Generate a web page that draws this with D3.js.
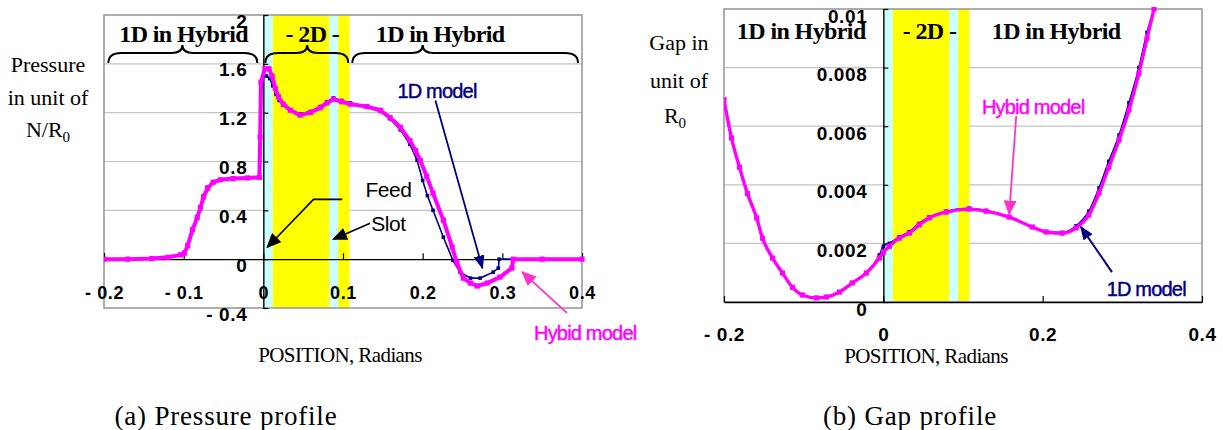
<!DOCTYPE html>
<html>
<head>
<meta charset="utf-8">
<script src="https://cdn.jsdelivr.net/npm/d3@7"></script>
<style>
body { margin: 0; background: #fff; }
svg text { font-family: "Liberation Sans", Arial, sans-serif; }
svg .serif { font-family: "Liberation Serif", "Times New Roman", serif; }
</style>
</head>
<body>
<script>
// pressure profile, hybrid model (x in radians, p in N/R0)
var pressHybX = [-0.2, -0.17, -0.14, -0.12, -0.104, -0.099, -0.095, -0.089, -0.083, -0.079, -0.075, -0.07, -0.063, -0.054, -0.038, -0.02, -0.005, -0.004, -0.003, 0.002, 0.007, 0.011, 0.015, 0.019, 0.025, 0.034, 0.046, 0.059, 0.0715, 0.08, 0.088, 0.098, 0.109, 0.13, 0.147, 0.159, 0.172, 0.184, 0.191, 0.197, 0.205, 0.213, 0.226, 0.237, 0.243, 0.251, 0.26, 0.2685, 0.281, 0.297, 0.312, 0.3137, 0.35, 0.4];
var pressHybY = [0, 0, 0.005, 0.015, 0.035, 0.05, 0.11, 0.24, 0.34, 0.42, 0.51, 0.58, 0.63, 0.65, 0.66, 0.665, 0.67, 1.0, 1.45, 1.56, 1.56, 1.5, 1.4, 1.33, 1.27, 1.22, 1.18, 1.2, 1.24, 1.28, 1.31, 1.29, 1.27, 1.25, 1.22, 1.16, 1.08, 0.97, 0.89, 0.81, 0.68, 0.54, 0.32, 0.1, -0.03, -0.155, -0.196, -0.22, -0.196, -0.147, -0.073, 0, 0, 0];
// pressure profile, 1D model
var press1dX = [-0.2, -0.17, -0.14, -0.12, -0.104, -0.099, -0.095, -0.089, -0.083, -0.079, -0.075, -0.07, -0.063, -0.054, -0.038, -0.02, -0.004, -0.002, 0.001, 0.004, 0.008, 0.012, 0.016, 0.02, 0.025, 0.034, 0.046, 0.059, 0.0715, 0.08, 0.088, 0.098, 0.109, 0.13, 0.147, 0.159, 0.172, 0.184, 0.193, 0.2, 0.206, 0.213, 0.226, 0.238, 0.247, 0.26, 0.272, 0.2886, 0.295, 0.296, 0.35, 0.4];
var press1dY = [0, 0, 0.005, 0.015, 0.035, 0.055, 0.12, 0.25, 0.35, 0.43, 0.52, 0.59, 0.63, 0.65, 0.66, 0.665, 0.67, 1.45, 1.5, 1.5, 1.48, 1.42, 1.35, 1.3, 1.26, 1.22, 1.19, 1.21, 1.25, 1.29, 1.32, 1.3, 1.28, 1.25, 1.21, 1.15, 1.06, 0.94, 0.81, 0.645, 0.52, 0.4, 0.18, -0.01, -0.106, -0.155, -0.155, -0.106, -0.073, 0, 0, 0];

// gap profile (x in radians, gap in R0)
var gapX = [-0.2, -0.1906, -0.1806, -0.1705, -0.159, -0.1517, -0.139, -0.1266, -0.114, -0.1016, -0.084, -0.0715, -0.055, -0.0389, -0.0213, -0.005, 0, 0.0075, 0.02, 0.0326, 0.045, 0.0577, 0.079, 0.1078, 0.129, 0.158, 0.187, 0.2044, 0.2245, 0.242, 0.258, 0.2708, 0.283, 0.2959, 0.3083, 0.3208, 0.331, 0.3398];
var gapHyb = [0.0069, 0.0056, 0.0046, 0.0037, 0.00287, 0.00218, 0.0015, 0.00099, 0.0005, 0.00024, 0.00014, 0.00017, 0.00034, 0.00065, 0.00099, 0.0015, 0.0017, 0.0019, 0.00218, 0.00235, 0.00263, 0.00287, 0.00307, 0.00317, 0.0031, 0.0029, 0.00256, 0.00239, 0.00235, 0.00253, 0.00297, 0.00372, 0.0046, 0.00553, 0.00655, 0.0078, 0.009, 0.01];
var gap1d = [0.0069, 0.0056, 0.0046, 0.0037, 0.00288, 0.0022, 0.0015, 0.001, 0.0005, 0.00024, 0.00014, 0.00017, 0.00034, 0.00066, 0.001, 0.0016, 0.0019, 0.002, 0.00222, 0.0024, 0.00268, 0.0029, 0.0031, 0.0032, 0.00312, 0.0029, 0.00256, 0.0024, 0.00237, 0.0026, 0.0031, 0.0039, 0.0048, 0.0057, 0.0068, 0.008, 0.0092, 0.01];

// 2D zone: feed slot strips and 2D strips
var bandStart = [0, 0.012, 0.083, 0.094];
var bandEnd = [0.012, 0.083, 0.094, 0.108];
var bandKind = ["slot", "2d", "slot", "2d"];

// region labels over the plots
var regionText = ["1D in Hybrid", "- 2D -", "1D in Hybrid"];
var regionCenterP = [-0.1, 0.0615, 0.222];
var regionCenterG = [-0.103, 0.058, 0.217];
var braceFrom = [-0.1945, 0.0025, 0.1117];
var braceTo = [-0.0075, 0.1066, 0.395];
var braceTip = [-0.1016, 0.055, 0.2];

// ticks
var pXTicks = [-0.2, -0.1, 0, 0.1, 0.2, 0.3, 0.4];
var pYTicks = [-0.4, 0, 0.4, 0.8, 1.2, 1.6, 2];
var gXTicks = [-0.2, 0, 0.2, 0.4];
var gYTicks = [0, 0.002, 0.004, 0.006, 0.008, 0.01];

var w = 1223, h = 430;
var svg = d3.select("body").append("svg")
	.attr("width", w)
	.attr("height", h);
var defs = svg.append("defs");

function arrowHead(id, color, len, wid) {
	defs.append("marker")
		.attr("id", id)
		.attr("viewBox", "0 0 10 10")
		.attr("preserveAspectRatio", "none")
		.attr("refX", 9).attr("refY", 5)
		.attr("markerUnits", "userSpaceOnUse")
		.attr("markerWidth", len).attr("markerHeight", wid)
		.attr("orient", "auto")
		.append("path")
		.attr("d", "M0,0L10,5L0,10z")
		.attr("fill", color);
}
arrowHead("ahBlack", "#000", 15, 13);
arrowHead("ahNavy", "#000080", 14, 11);
arrowHead("ahPink", "#ff33cc", 15, 13);

var bandFill = { slot: "#ccffff", "2d": "#ffff00" };
function fmt(d) { return d < 0 ? "- " + Math.abs(d) : String(d); }

function bracePath(x1, x2, xm, y) {
	return "M" + x1 + "," + (y + 10) + " Q" + x1 + "," + y + " " + (x1 + 13) + "," + y +
		" L" + (xm - 11) + "," + y + " Q" + xm + "," + y + " " + xm + "," + (y - 8) +
		" Q" + xm + "," + y + " " + (xm + 11) + "," + y +
		" L" + (x2 - 13) + "," + y + " Q" + x2 + "," + y + " " + x2 + "," + (y + 10);
}

function pts(xs, ys) { return xs.map(function (x, i) { return [x, ys[i]]; }); }

// draws one panel: grid, bands, frame, axes, two series
function drawPanel(g, x, y, opt) {
	var x0 = x.range()[0], x1 = x.range()[1];
	var yTop = y.range()[1], yBot = y.range()[0];

	g.append("g").selectAll("line")
		.data(opt.yTicks.filter(function (d) { return d > y.domain()[0] && d !== 0 && d < y.domain()[1]; }))
		.enter().append("line")
		.attr("x1", x0).attr("x2", x1)
		.attr("y1", function (d) { return y(d); })
		.attr("y2", function (d) { return y(d); })
		.attr("stroke", "#c4c4c4").attr("stroke-width", 1.2);

	g.append("g").selectAll("rect")
		.data(bandStart)
		.enter().append("rect")
		.attr("x", function (d) { return x(d); })
		.attr("width", function (d, i) { return x(bandEnd[i]) - x(d); })
		.attr("y", yTop).attr("height", yBot - yTop)
		.attr("fill", function (d, i) { return bandFill[bandKind[i]]; });

	g.append("rect")
		.attr("x", x0).attr("y", yTop)
		.attr("width", x1 - x0).attr("height", yBot - yTop)
		.attr("fill", "none").attr("stroke", "#9a9a9a").attr("stroke-width", 1.6);

	var xAxis = d3.axisBottom(x).tickValues(opt.xTicks)
		.tickSizeInner(-6).tickSizeOuter(0).tickFormat(fmt);
	var gx = g.append("g")
		.attr("transform", "translate(0," + y(0) + ")")
		.call(xAxis);
	gx.select(".domain").attr("stroke", "#000").attr("stroke-width", 1.4);
	gx.selectAll("line").attr("stroke", "#000").attr("stroke-width", 1.2);
	gx.selectAll("text")
		.attr("y", opt.xLabelY).attr("dy", "0.71em")
		.attr("font-size", opt.xFont).attr("font-weight", "bold")
		.attr("letter-spacing", 0.6).attr("fill", "#000")
		.attr("font-family", "Liberation Sans, Arial, sans-serif");

	var yAxis = d3.axisRight(y).tickValues(opt.yTicks)
		.tickSizeInner(5).tickSizeOuter(0).tickFormat(fmt);
	var gy = g.append("g")
		.attr("transform", "translate(" + x(0) + ",0)")
		.call(yAxis);
	gy.select(".domain").attr("stroke", "#000").attr("stroke-width", 1.4);
	gy.selectAll("line").attr("stroke", "#000").attr("stroke-width", 1.2);
	gy.selectAll("text")
		.attr("x", -16).attr("y", opt.yLabelDy)
		.attr("text-anchor", "end")
		.attr("font-size", opt.yFont).attr("font-weight", "bold")
		.attr("letter-spacing", 0.6).attr("fill", "#000")
		.attr("font-family", "Liberation Sans, Arial, sans-serif");

	// series
	defs.append("clipPath").attr("id", opt.id + "clip")
		.append("rect").attr("x", x0).attr("y", yTop - 2)
		.attr("width", x1 - x0 + 4).attr("height", yBot - yTop + 4);
	var plot = g.append("g").attr("clip-path", "url(#" + opt.id + "clip)");
	var line = d3.line()
		.x(function (d) { return x(d[0]); })
		.y(function (d) { return y(d[1]); })
		.curve(opt.curve);

	plot.append("path").datum(opt.oneD)
		.attr("d", line).attr("fill", "none")
		.attr("stroke", "#000080").attr("stroke-width", 1.6);
	plot.selectAll(".m1").data(opt.oneD).enter().append("rect")
		.attr("x", function (d) { return x(d[0]) - 1.8; })
		.attr("y", function (d) { return y(d[1]) - 1.8; })
		.attr("width", 3.6).attr("height", 3.6)
		.attr("fill", "#000080");

	plot.append("path").datum(opt.hyb)
		.attr("d", line).attr("fill", "none")
		.attr("stroke", "#ff00ff").attr("stroke-width", opt.hybWidth)
		.attr("stroke-linejoin", "round");
	plot.selectAll(".m2").data(opt.hyb).enter().append("rect")
		.attr("x", function (d) { return x(d[0]) - 2.6; })
		.attr("y", function (d) { return y(d[1]) - 2.6; })
		.attr("width", 5.2).attr("height", 5.2)
		.attr("fill", "#ff00ff");
}

function arrow(g, x1, y1, x2, y2, color, mk, sw) {
	g.append("line")
		.attr("x1", x1).attr("y1", y1).attr("x2", x2).attr("y2", y2)
		.attr("stroke", color).attr("stroke-width", sw)
		.attr("marker-end", "url(#" + mk + ")");
}

function label(g, x, y, txt, size, color, cls, weight) {
	return g.append("text")
		.attr("x", x).attr("y", y)
		.attr("text-anchor", "middle")
		.attr("class", cls || null)
		.attr("font-size", size)
		.attr("font-weight", weight || "normal")
		.attr("fill", color)
		.text(txt);
}

// model callouts, drawn a little heavier like the source figure
function callout(g, x, y, txt, color) {
	return label(g, x, y, txt, 20, color, null, "normal")
		.attr("letter-spacing", -0.8)
		.attr("stroke", color).attr("stroke-width", 0.45);
}

// ---------- (a) pressure profile ----------
var xP = d3.scaleLinear().domain([-0.2, 0.4]).range([104, 582]);
var yP = d3.scaleLinear().domain([-0.4, 2]).range([308, 15]);
var gA = svg.append("g");
drawPanel(gA, xP, yP, {
	id: "p", xTicks: pXTicks, yTicks: pYTicks,
	xLabelY: 27, yLabelDy: 6, xFont: 18, yFont: 19,
	curve: d3.curveLinear, hybWidth: 4,
	hyb: pts(pressHybX, pressHybY), oneD: pts(press1dX, press1dY)
});

regionText.forEach(function (t, i) {
	label(gA, xP(regionCenterP[i]), 42, t, 24, "#000", "serif", "bold")
		.attr("letter-spacing", -0.6);
	gA.append("path")
		.attr("d", bracePath(xP(braceFrom[i]), xP(braceTo[i]), xP(braceTip[i]), 53))
		.attr("fill", "none").attr("stroke", "#000").attr("stroke-width", 2);
});

callout(gA, xP(0.218), yP(1.32), "1D model", "#000080");
arrow(gA, xP(0.216), yP(1.3), xP(0.275), yP(-0.073), "#000080", "ahNavy", 1.8);

callout(gA, xP(0.404), yP(-0.66), "Hybid model", "#ff00ff");
arrow(gA, xP(0.381), yP(-0.44), xP(0.325), yP(-0.106), "#ff33cc", "ahPink", 1.8);

label(gA, xP(0.157), yP(0.506), "Feed", 21, "#000", null, "normal").attr("letter-spacing", -0.5);
label(gA, xP(0.157), yP(0.229), "Slot", 21, "#000", null, "normal").attr("letter-spacing", -0.5);
gA.append("polyline")
	.attr("points", [[xP(0.099), yP(0.49)], [xP(0.063), yP(0.49)], [xP(0.005), yP(0.098)]].join(" "))
	.attr("fill", "none").attr("stroke", "#000").attr("stroke-width", 1.6)
	.attr("marker-end", "url(#ahBlack)");
arrow(gA, xP(0.134), yP(0.294), xP(0.088), yP(0.163), "#000", "ahBlack", 1.6);

var tA = gA.append("text").attr("class", "serif").attr("font-size", 22)
	.attr("text-anchor", "middle").attr("fill", "#000");
tA.append("tspan").attr("x", 48).attr("y", 72).text("Pressure");
tA.append("tspan").attr("x", 48).attr("y", 105).text("in unit of");
tA.append("tspan").attr("x", 48).attr("y", 137).text("N/R");
tA.append("tspan").attr("dy", 5).attr("font-size", 15).text("0");

label(gA, 340, 362, "POSITION, Radians", 21, "#000", "serif").attr("letter-spacing", -0.6);
label(gA, 226, 425, "(a) Pressure profile", 27, "#000", "serif").attr("letter-spacing", 0.8);

// ---------- (b) gap profile ----------
var xG = d3.scaleLinear().domain([-0.2, 0.4]).range([724, 1202]);
var yG = d3.scaleLinear().domain([0, 0.01]).range([302, 9]);
var gB = svg.append("g");
drawPanel(gB, xG, yG, {
	id: "g", xTicks: gXTicks, yTicks: gYTicks,
	xLabelY: 26, yLabelDy: 7, xFont: 19, yFont: 19,
	curve: d3.curveMonotoneX, hybWidth: 3.4,
	hyb: pts(gapX, gapHyb), oneD: pts(gapX, gap1d)
});

regionText.forEach(function (t, i) {
	label(gB, xG(regionCenterG[i]), 39, t, 24, "#000", "serif", "bold")
		.attr("letter-spacing", -0.6);
});

callout(gB, xG(0.188), yG(0.00642), "Hybid model", "#ff00ff");
arrow(gB, xG(0.1668), yG(0.00635), xG(0.158), yG(0.003), "#ff33cc", "ahPink", 1.8);
callout(gB, xG(0.33), yG(0.0002), "1D model", "#000080");
arrow(gB, xG(0.287), yG(0.00102), xG(0.248), yG(0.00256), "#000080", "ahNavy", 2);

var tB = gB.append("text").attr("class", "serif").attr("font-size", 22)
	.attr("text-anchor", "middle").attr("fill", "#000");
tB.append("tspan").attr("x", 679).attr("y", 50).text("Gap in");
tB.append("tspan").attr("x", 679).attr("y", 88).text("unit of");
tB.append("tspan").attr("x", 675).attr("y", 123).text("R");
tB.append("tspan").attr("dy", 5).attr("font-size", 15).text("0");

label(gB, 926, 363, "POSITION, Radians", 21, "#000", "serif").attr("letter-spacing", -0.6);
label(gB, 910, 425, "(b) Gap profile", 27, "#000", "serif").attr("letter-spacing", 0.8);
</script>
</body>
</html>
